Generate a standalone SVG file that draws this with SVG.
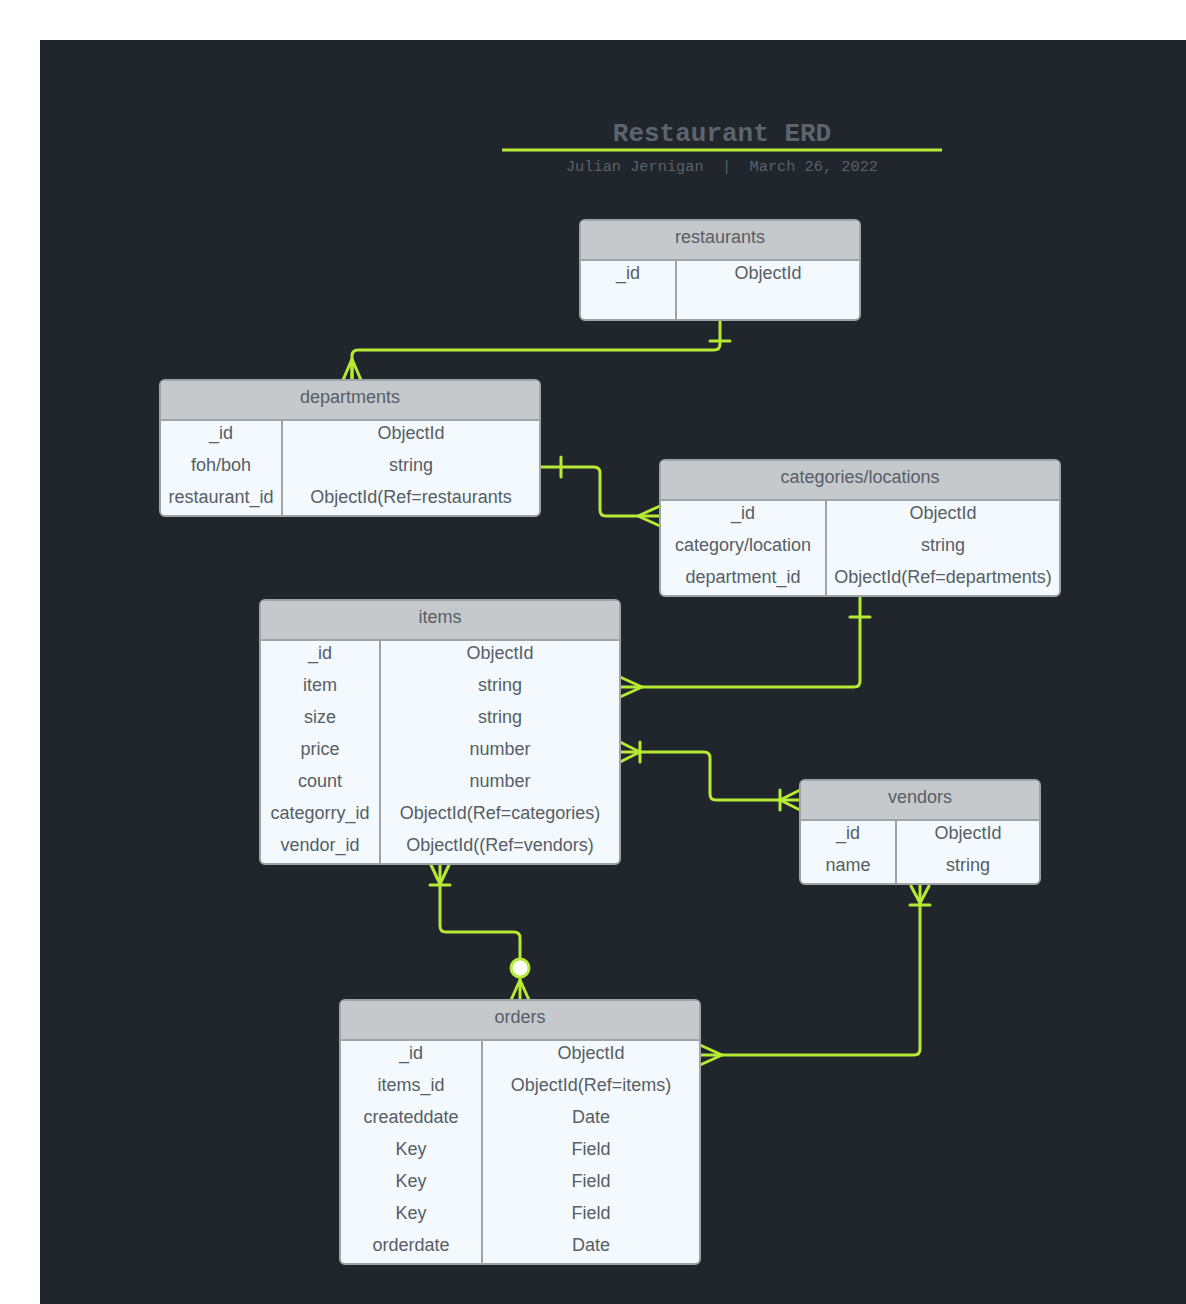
<svg xmlns="http://www.w3.org/2000/svg" width="1186" height="1304" viewBox="0 0 1186 1304">
<style>
.bg{fill:#21262c}
.hdr{fill:#c5c9cb}
.body{fill:#f3f9fc;stroke:#9ea4a8;stroke-width:2}
.div{stroke:#9ea4a8;stroke-width:2}
.t{font-family:"Liberation Sans",Arial,sans-serif;font-size:18px;fill:#575e66;text-anchor:middle}
.c{fill:none;stroke:#b6ea34;stroke-width:3;stroke-linecap:round;stroke-linejoin:round}
.title{font-family:"Liberation Mono","DejaVu Sans Mono",monospace;font-weight:bold;font-size:26px;fill:#5d646c;text-anchor:middle}
.sub{font-family:"Liberation Mono","DejaVu Sans Mono",monospace;font-size:15.3px;fill:#5a6168;text-anchor:middle}
</style>
<rect x="0" y="0" width="1186" height="1304" fill="#ffffff"/>
<rect class="bg" x="40" y="40" width="1146" height="1264"/>
<g id="title">
<text class="title" x="722" y="141">Restaurant ERD</text>
<line x1="502" y1="150" x2="942" y2="150" stroke="#b6ea34" stroke-width="3"/>
<text class="sub" x="722" y="171" xml:space="preserve">Julian Jernigan  |  March 26, 2022</text>
</g>

<g id="connectors">
<!-- restaurants -> departments -->
<path class="c" d="M720,320 V344 Q720,350 714,350 H358 Q352,350 352,356 V380"/>
<path class="c" d="M710,341 H730"/>
<path class="c" d="M343,380 L352,359 L361,380 M352,359 V380"/>
<!-- departments -> categories -->
<path class="c" d="M540,467 H594 Q600,467 600,473 V510 Q600,516 606,516 H660"/>
<path class="c" d="M561,457 V477"/>
<path class="c" d="M660,506 L638,516 L660,526"/>
<!-- categories -> items -->
<path class="c" d="M860,596 V681 Q860,687 854,687 H620"/>
<path class="c" d="M850,617 H870"/>
<path class="c" d="M620,677 L642,687 L620,697"/>
<!-- items <-> vendors -->
<path class="c" d="M620,752 H704 Q710,752 710,758 V794 Q710,800 716,800 H800"/>
<path class="c" d="M620,742 L640,752 L620,762 M640,742 V762"/>
<path class="c" d="M800,790 L780,800 L800,810 M780,790 V810"/>
<!-- items -> orders -->
<path class="c" d="M440,864 V926 Q440,932 446,932 H514 Q520,932 520,938 V1000"/>
<path class="c" d="M431,865 L440,884 L449,865 M430,885 H450"/>
<circle cx="520" cy="968" r="9" fill="#ffffff" stroke="#b6ea34" stroke-width="3"/>
<path class="c" d="M511,1000 L520,980 L529,1000"/>
<!-- vendors -> orders -->
<path class="c" d="M920,884 V1049 Q920,1055 914,1055 H700"/>
<path class="c" d="M911,886 L920,903 L929,886 M910,905 H930"/>
<path class="c" d="M700,1045 L722,1055 L700,1065"/>
</g>

<g id="restaurants">
<rect class="body" x="580" y="220" width="280" height="100" rx="5"/>
<path class="hdr" d="M581,259 V226 Q581,221 586,221 H854 Q859,221 859,226 V259 Z"/>
<line class="div" x1="581" y1="260" x2="859" y2="260"/>
<line class="div" x1="676" y1="260" x2="676" y2="319"/>
<text class="t" x="720" y="243">restaurants</text>
<text class="t" x="628" y="279">_id</text>
<text class="t" x="768" y="279">ObjectId</text>
</g>

<g id="departments">
<rect class="body" x="160" y="380" width="380" height="136" rx="5"/>
<path class="hdr" d="M161,419 V386 Q161,381 166,381 H534 Q539,381 539,386 V419 Z"/>
<line class="div" x1="161" y1="420" x2="539" y2="420"/>
<line class="div" x1="282" y1="420" x2="282" y2="515"/>
<text class="t" x="350" y="403">departments</text>
<text class="t" x="221" y="439">_id</text>
<text class="t" x="411" y="439">ObjectId</text>
<text class="t" x="221" y="471">foh/boh</text>
<text class="t" x="411" y="471">string</text>
<text class="t" x="221" y="503">restaurant_id</text>
<text class="t" x="411" y="503">ObjectId(Ref=restaurants</text>
</g>

<g id="categories">
<rect class="body" x="660" y="460" width="400" height="136" rx="5"/>
<path class="hdr" d="M661,499 V466 Q661,461 666,461 H1054 Q1059,461 1059,466 V499 Z"/>
<line class="div" x1="661" y1="500" x2="1059" y2="500"/>
<line class="div" x1="826" y1="500" x2="826" y2="595"/>
<text class="t" x="860" y="483">categories/locations</text>
<text class="t" x="743" y="519">_id</text>
<text class="t" x="943" y="519">ObjectId</text>
<text class="t" x="743" y="551">category/location</text>
<text class="t" x="943" y="551">string</text>
<text class="t" x="743" y="583">department_id</text>
<text class="t" x="943" y="583">ObjectId(Ref=departments)</text>
</g>

<g id="items">
<rect class="body" x="260" y="600" width="360" height="264" rx="5"/>
<path class="hdr" d="M261,639 V606 Q261,601 266,601 H614 Q619,601 619,606 V639 Z"/>
<line class="div" x1="261" y1="640" x2="619" y2="640"/>
<line class="div" x1="380" y1="640" x2="380" y2="863"/>
<text class="t" x="440" y="623">items</text>
<text class="t" x="320" y="659">_id</text>
<text class="t" x="500" y="659">ObjectId</text>
<text class="t" x="320" y="691">item</text>
<text class="t" x="500" y="691">string</text>
<text class="t" x="320" y="723">size</text>
<text class="t" x="500" y="723">string</text>
<text class="t" x="320" y="755">price</text>
<text class="t" x="500" y="755">number</text>
<text class="t" x="320" y="787">count</text>
<text class="t" x="500" y="787">number</text>
<text class="t" x="320" y="819">categorry_id</text>
<text class="t" x="500" y="819">ObjectId(Ref=categories)</text>
<text class="t" x="320" y="851">vendor_id</text>
<text class="t" x="500" y="851">ObjectId((Ref=vendors)</text>
</g>

<g id="vendors">
<rect class="body" x="800" y="780" width="240" height="104" rx="5"/>
<path class="hdr" d="M801,819 V786 Q801,781 806,781 H1034 Q1039,781 1039,786 V819 Z"/>
<line class="div" x1="801" y1="820" x2="1039" y2="820"/>
<line class="div" x1="896" y1="820" x2="896" y2="883"/>
<text class="t" x="920" y="803">vendors</text>
<text class="t" x="848" y="839">_id</text>
<text class="t" x="968" y="839">ObjectId</text>
<text class="t" x="848" y="871">name</text>
<text class="t" x="968" y="871">string</text>
</g>

<g id="orders">
<rect class="body" x="340" y="1000" width="360" height="264" rx="5"/>
<path class="hdr" d="M341,1039 V1006 Q341,1001 346,1001 H694 Q699,1001 699,1006 V1039 Z"/>
<line class="div" x1="341" y1="1040" x2="699" y2="1040"/>
<line class="div" x1="482" y1="1040" x2="482" y2="1263"/>
<text class="t" x="520" y="1023">orders</text>
<text class="t" x="411" y="1059">_id</text>
<text class="t" x="591" y="1059">ObjectId</text>
<text class="t" x="411" y="1091">items_id</text>
<text class="t" x="591" y="1091">ObjectId(Ref=items)</text>
<text class="t" x="411" y="1123">createddate</text>
<text class="t" x="591" y="1123">Date</text>
<text class="t" x="411" y="1155">Key</text>
<text class="t" x="591" y="1155">Field</text>
<text class="t" x="411" y="1187">Key</text>
<text class="t" x="591" y="1187">Field</text>
<text class="t" x="411" y="1219">Key</text>
<text class="t" x="591" y="1219">Field</text>
<text class="t" x="411" y="1251">orderdate</text>
<text class="t" x="591" y="1251">Date</text>
</g>
</svg>
